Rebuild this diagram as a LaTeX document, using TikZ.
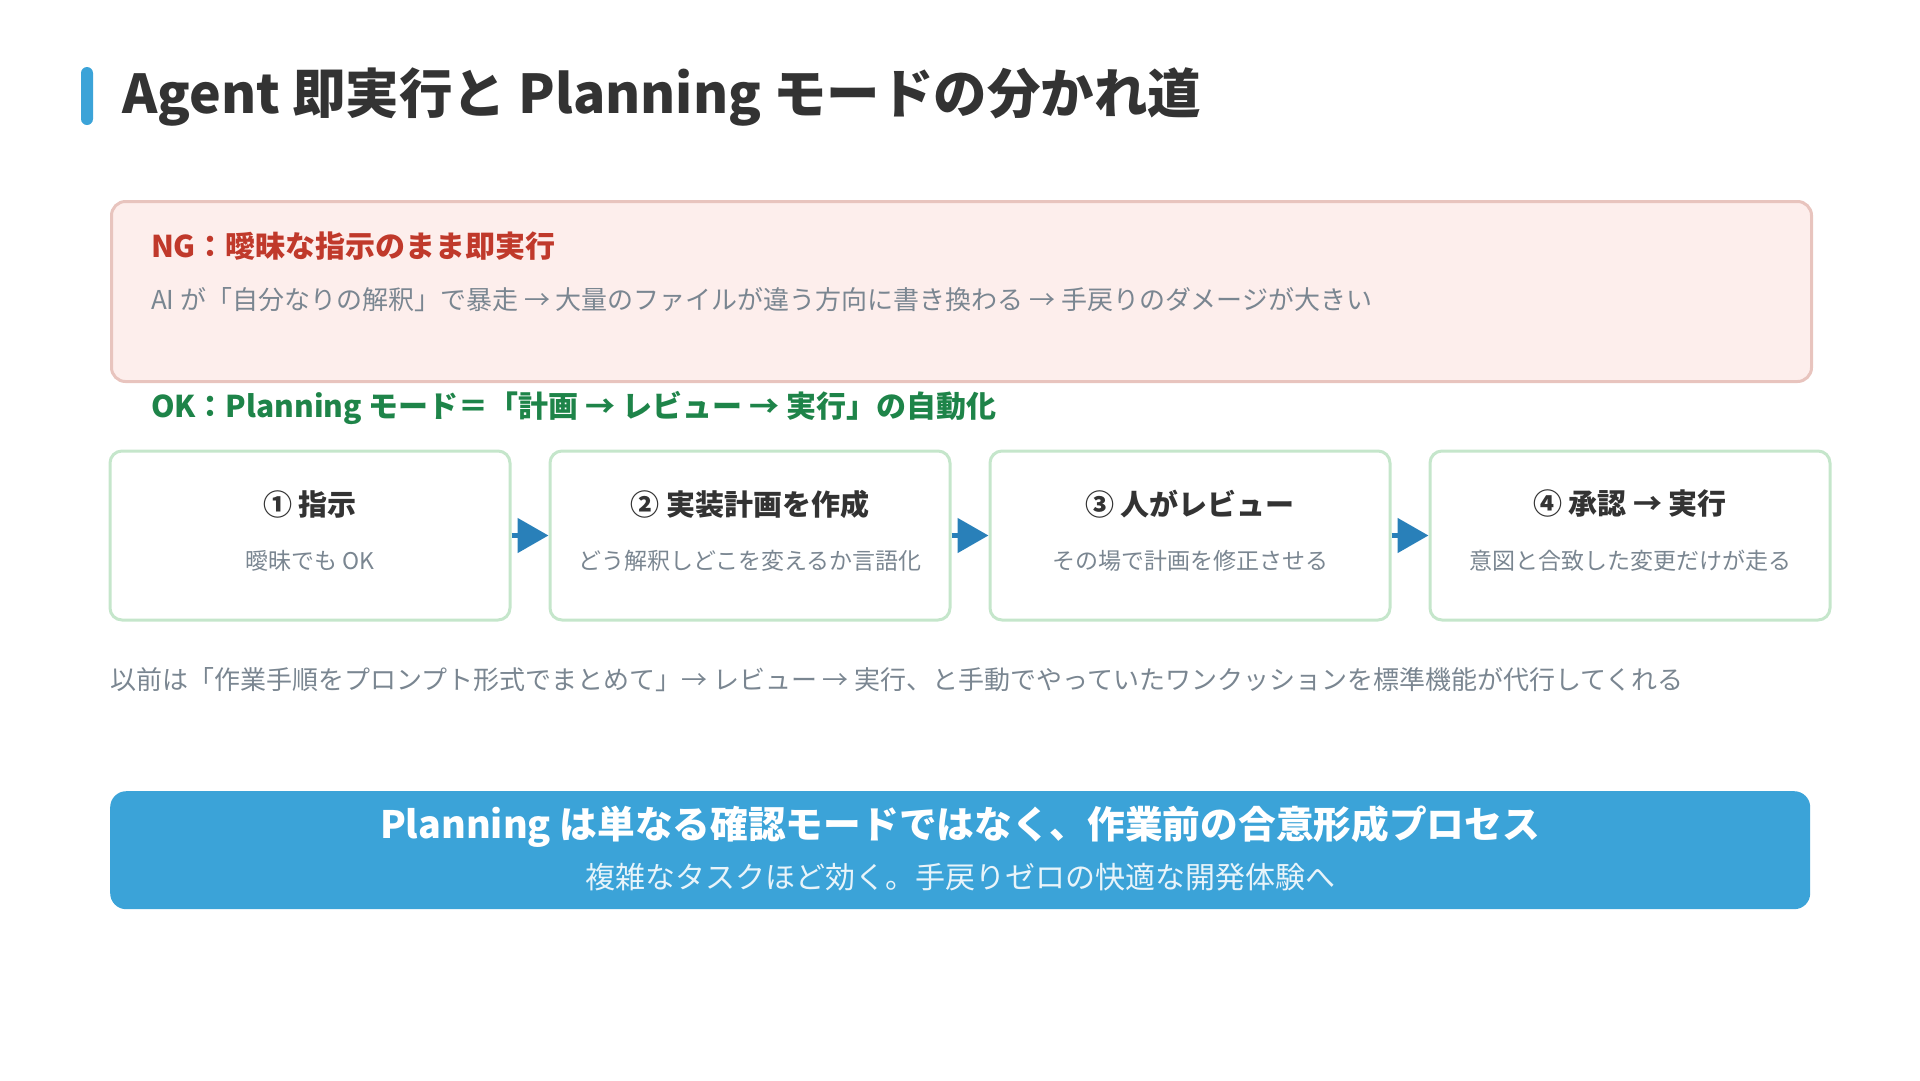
\documentclass[tikz,border=0pt]{standalone}
\usepackage{fontspec}
\setmainfont{Noto Sans CJK JP}
\usetikzlibrary{arrows.meta}

\definecolor{accent}{RGB}{59,163,216}
\definecolor{ink}{RGB}{51,51,51}
\definecolor{ngred}{RGB}{192,57,43}
\definecolor{mutegray}{RGB}{122,134,145}
\definecolor{ngfill}{RGB}{253,238,236}
\definecolor{ngline}{RGB}{232,196,190}
\definecolor{okgreen}{RGB}{30,132,73}
\definecolor{stepline}{RGB}{197,230,203}
\definecolor{flowblue}{RGB}{41,128,185}

\begin{document}
\begin{tikzpicture}[x=1pt, y=-1pt,
  txt/.style={inner sep=0pt, outer sep=0pt},
  ngbox/.style={draw=ngline, fill=ngfill, line width=3pt, rounded corners=14pt,
    minimum width=1700, minimum height=180, anchor=north west},
  stepbox/.style={draw=stepline, fill=white, line width=3pt, rounded corners=12pt,
    minimum width=400, minimum height=169},
  steptitle/.style={txt, text=ink, font=\fontsize{29}{35}\selectfont\bfseries},
  stepnote/.style={txt, text=mutegray, font=\fontsize{23}{28}\selectfont},
  flow/.style={draw=flowblue, line width=5pt, -{Triangle[length=31pt, width=34pt]}},
  banner/.style={fill=accent, rounded corners=16pt, minimum width=1700,
    minimum height=118, anchor=north west}]

\useasboundingbox (0,0) rectangle (1920,1080);

% Title
\fill[accent, rounded corners=6pt] (81,67) rectangle (93,125);
\node[txt, anchor=west, text=ink, font=\fontsize{53.5}{64}\selectfont\bfseries]
  (title) at (122,97) {Agent 即実行と Planning モードの分かれ道};

% NG box
\node[ngbox] (ng) at (110,200) {};
\node[txt, anchor=west, text=ngred, font=\fontsize{30}{36}\selectfont\bfseries]
  (ng-t) at (151,246) {NG：曖昧な指示のまま即実行};
\node[txt, anchor=west, text=mutegray, font=\fontsize{26}{31}\selectfont]
  (ng-n) at (151,300) {AI が「自分なりの解釈」で暴走 → 大量のファイルが違う方向に書き換わる → 手戻りのダメージが大きい};

% OK line
\node[txt, anchor=west, text=okgreen, font=\fontsize{30}{36}\selectfont\bfseries]
  (ok) at (151,408) {OK：Planning モード＝「計画 → レビュー → 実行」の自動化};

% Steps
\foreach \n/\x/\head/\note in {
    1/310/{① 指示}/{曖昧でも OK},
    2/750/{② 実装計画を作成}/{どう解釈しどこを変えるか言語化},
    3/1190/{③ 人がレビュー}/{その場で計画を修正させる},
    4/1630/{④ 承認 → 実行}/{意図と合致した変更だけが走る}} {
  \node[stepbox] (s\n) at (\x,535.5) {};
  \node[steptitle] (s\n-t) at (\x,504) {\head};
  \node[stepnote] (s\n-n) at (\x,561) {\note};
}
\foreach \a/\b in {1/2, 2/3, 3/4}
  \draw[flow] (s\a.east) -- (s\b.west);

% Note
\node[txt, anchor=west, text=mutegray, font=\fontsize{26}{31}\selectfont]
  (note) at (110,680) {以前は「作業手順をプロンプト形式でまとめて」→ レビュー → 実行、と手動でやっていたワンクッションを標準機能が代行してくれる};

% Banner
\node[banner] (bn) at (110,791) {};
\node[txt, text=white, font=\fontsize{37.7}{44}\selectfont\bfseries]
  (bn-t) at (960,827) {Planning は単なる確認モードではなく、作業前の合意形成プロセス};
\node[txt, text=white!88!accent, font=\fontsize{30}{36}\selectfont]
  (bn-n) at (960,877) {複雑なタスクほど効く。手戻りゼロの快適な開発体験へ};

\end{tikzpicture}
\end{document}
